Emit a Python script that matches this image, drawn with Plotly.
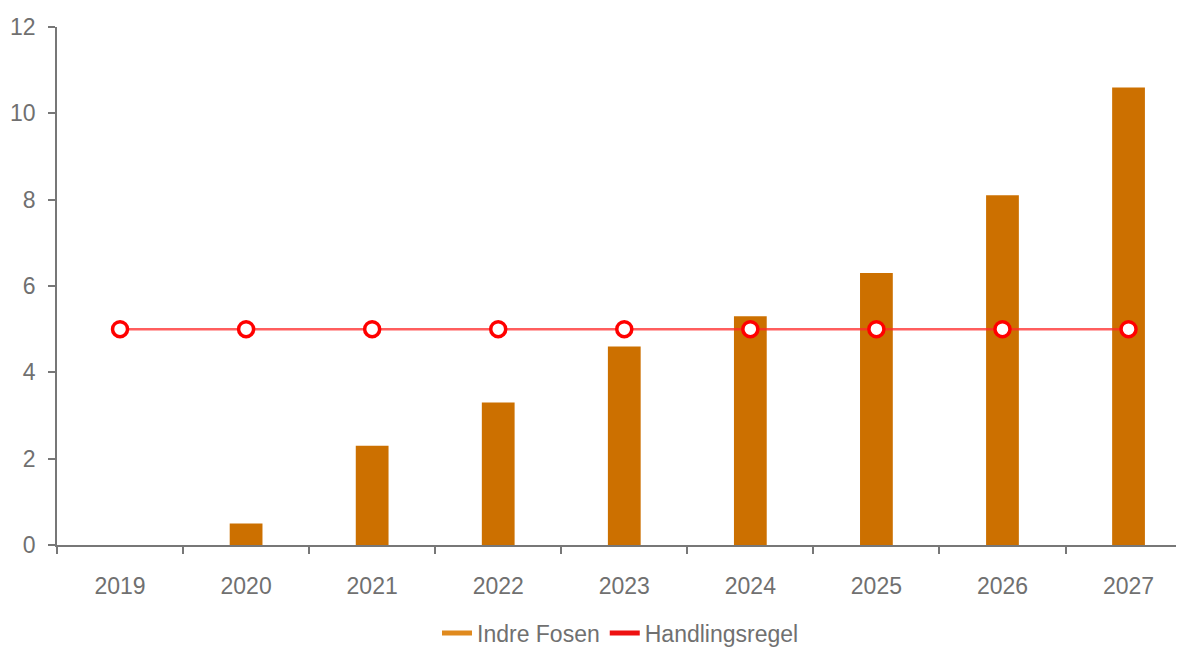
import plotly.graph_objects as go

years = ["2019", "2020", "2021", "2022", "2023", "2024", "2025", "2026", "2027"]
indre_fosen = [0, 0.5, 2.3, 3.3, 4.6, 5.3, 6.3, 8.1, 10.6]
handlingsregel = [5, 5, 5, 5, 5, 5, 5, 5, 5]
y_ticks = [0, 2, 4, 6, 8, 10, 12]

bar_color = "#CC7000"
line_color = "rgba(255,40,40,0.75)"
marker_edge = "#FF0000"
text_color = "#707070"

fig = go.Figure()
fig.add_trace(go.Bar(
    x=years, y=indre_fosen, name="Indre Fosen", width=0.26,
    marker=dict(color=bar_color, line=dict(width=0)),
    showlegend=False,
))
fig.add_trace(go.Scatter(
    x=years, y=handlingsregel, name="Handlingsregel", mode="lines+markers",
    line=dict(color=line_color, width=2.5),
    marker=dict(symbol="circle", size=15, color="white",
                line=dict(color=marker_edge, width=3.5)),
    showlegend=False,
))
# legend entries (line symbols)
fig.add_trace(go.Scatter(x=[None], y=[None], mode="lines", name="Indre Fosen",
                         line=dict(color="#E08A1E", width=5)))
fig.add_trace(go.Scatter(x=[None], y=[None], mode="lines", name="Handlingsregel",
                         line=dict(color="#EE1111", width=5)))

fig.update_layout(
    width=1184, height=648,
    margin=dict(l=49, r=8, t=19, b=111, autoexpand=False),
    paper_bgcolor="white", plot_bgcolor="white",
    font=dict(family="Liberation Sans, Arial, sans-serif", size=23, color=text_color),
    showlegend=True,
    legend=dict(orientation="h", x=0.5, xanchor="center", y=-0.17, yanchor="middle",
                font=dict(size=23, color=text_color), itemwidth=30, tracegroupgap=0),
    xaxis=dict(
        type="category", range=[-0.5, 8.44], showgrid=False, automargin=False,
        showline=True, linecolor="#777", linewidth=1.5,
        ticks="outside", tickson="boundaries", ticklen=7, tickcolor="#777", tickwidth=1.5,
        tickfont=dict(size=23, color=text_color), ticklabelstandoff=20, fixedrange=True,
    ),
    yaxis=dict(
        range=[0, 12], tickvals=y_ticks, showgrid=False, zeroline=False, automargin=False,
        showline=True, linecolor="#777", linewidth=1.5,
        ticks="outside", ticklen=7, tickcolor="#777", tickwidth=1.5,
        tickfont=dict(size=23, color=text_color), ticklabelstandoff=8,
    ),
    bargap=0.74,
)

fig.write_html("out.html")
